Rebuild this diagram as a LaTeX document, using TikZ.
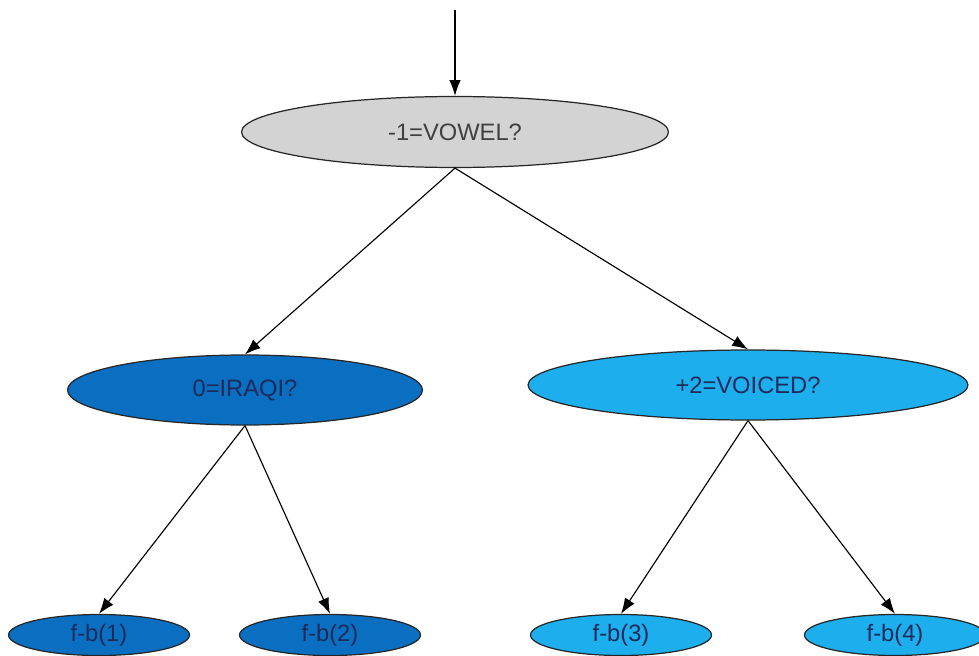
\documentclass[tikz,border=0pt]{standalone}
\usepackage{fontspec}
\setmainfont{Liberation Sans}
\usetikzlibrary{shapes.geometric, arrows.meta, positioning}
\definecolor{tree_gray}{HTML}{D3D3D3}
\definecolor{tree_dark}{HTML}{0A6FC0}
\definecolor{tree_light}{HTML}{1DAEEE}
\definecolor{tree_ink}{HTML}{1B2B5C}
\tikzset{
  question/.style={ellipse,draw=black!85,line width=0.7pt,inner sep=0pt,minimum height=1.4cm,font=\fontsize{13.5}{15}\selectfont},
  question_root/.style={question,fill=tree_gray,text=black!75,minimum width=8.54cm,minimum height=1.42cm},
  question_dark/.style={question,fill=tree_dark,text=tree_ink,minimum width=7.1cm},
  question_light/.style={question,fill=tree_light,text=tree_ink,minimum width=8.8cm},
  leaf/.style={ellipse,draw=black!85,line width=0.7pt,inner sep=0pt,minimum width=3.62cm,minimum height=0.82cm,text=tree_ink,font=\fontsize{13.5}{15}\selectfont},
  leaf_dark/.style={leaf,fill=tree_dark},
  leaf_light/.style={leaf,fill=tree_light},
  branch/.style={-{Latex[length=9pt,width=6.5pt]},line width=0.65pt,black},
}

\begin{document}
\begin{tikzpicture}[x=0.02cm,y=-0.02cm]
	\useasboundingbox (0,0) rectangle (979,655);
	\coordinate (start) at (455,10);
	\node[question_root] (V) at (455,132) {-1=VOWEL?};
	\node[question_dark] (I) at (245,390) {0=IRAQI?};
	\node[question_light] (D) at (748,385) {+2=VOICED?};
	\node[leaf_dark] (F1) at (99,635) {f-b(1)};
	\node[leaf_dark] (F2) at (330,635) {f-b(2)};
	\node[leaf_light] (F3) at (621,635) {f-b(3)};
	\node[leaf_light] (F4) at (895,635) {f-b(4)};
	\draw[branch] (start) -- (V.north);
	\draw[branch] (V.south) -- (I.north);
	\draw[branch] (V.south) -- (D.north);
	\draw[branch] (I.south) -- (F1.north);
	\draw[branch] (I.south) -- (F2.north);
	\draw[branch] (D.south) -- (F3.north);
	\draw[branch] (D.south) -- (F4.north);
\end{tikzpicture}
\end{document}
